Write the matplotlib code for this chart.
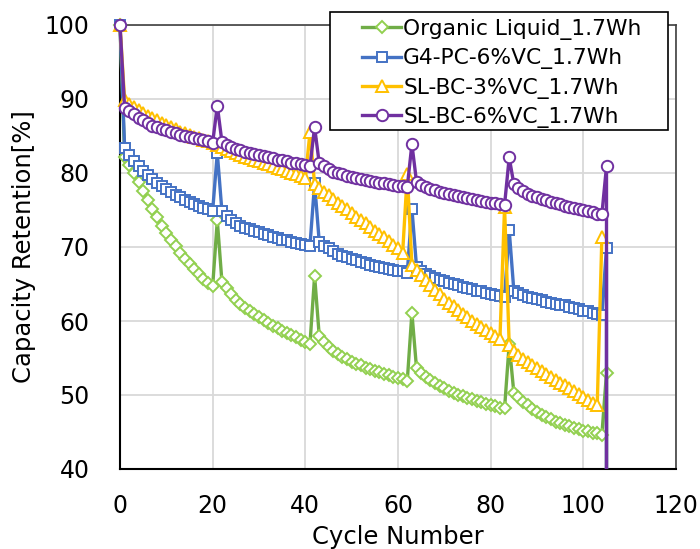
import matplotlib
matplotlib.use("Agg")
import matplotlib.pyplot as plt
from matplotlib.patches import Rectangle
from matplotlib.transforms import Bbox, TransformedBbox

# ---------------- data ----------------
cycles = list(range(0, 106)) + [105]          # last entry: reading after final cycle
cycles_sl3 = list(range(0, 105))

organic = [100, 82.2, 81.1, 80.0, 78.8, 77.6, 76.4, 75.2, 74.0, 72.9,
           71.9, 71.0, 70.1, 69.2, 68.4, 67.7, 67.0, 66.3, 65.7, 65.2,
           64.7, 73.6, 65.3, 64.4, 63.6, 62.9, 62.3, 61.8, 61.3, 60.9,
           60.5, 60.1, 59.7, 59.3, 59.0, 58.7, 58.4, 58.1, 57.8, 57.5,
           57.2, 56.9, 66.1, 58.0, 57.2, 56.5, 56.0, 55.5, 55.1, 54.8,
           54.5, 54.2, 54.0, 53.7, 53.5, 53.3, 53.1, 52.9, 52.7, 52.5,
           52.3, 52.1, 51.9, 61.1, 53.6, 53.0, 52.5, 52.0, 51.6, 51.2,
           50.9, 50.6, 50.3, 50.0, 49.8, 49.6, 49.4, 49.2, 49.0, 48.8,
           48.6, 48.5, 48.3, 48.2, 56.9, 50.3, 49.7, 49.1, 48.6, 48.1,
           47.7, 47.3, 47.0, 46.7, 46.4, 46.2, 46.0, 45.8, 45.6, 45.4,
           45.2, 45.1, 44.9, 44.8, 44.6, 53.0, 0.0]

g4_pc = [100, 83.4, 82.4, 81.6, 80.9, 80.3, 79.7, 79.2, 78.7, 78.2,
         77.8, 77.4, 77.0, 76.7, 76.4, 76.1, 75.8, 75.6, 75.3, 75.1,
         74.9, 82.7, 74.8, 74.2, 73.7, 73.3, 72.9, 72.6, 72.4, 72.2,
         72.0, 71.8, 71.6, 71.4, 71.2, 71.0, 70.9, 70.7, 70.6, 70.4,
         70.3, 70.2, 78.6, 70.7, 70.2, 69.8, 69.4, 69.1, 68.8, 68.6,
         68.4, 68.2, 68.0, 67.8, 67.6, 67.5, 67.3, 67.2, 67.0, 66.9,
         66.8, 66.7, 66.5, 75.2, 67.3, 66.8, 66.4, 66.1, 65.8, 65.6,
         65.4, 65.2, 65.0, 64.8, 64.6, 64.5, 64.3, 64.1, 64.0, 63.8,
         63.7, 63.5, 63.4, 63.3, 72.3, 64.1, 63.8, 63.5, 63.3, 63.1,
         63.0, 62.8, 62.6, 62.5, 62.3, 62.2, 62.1, 61.9, 61.7, 61.6,
         61.4, 61.3, 61.1, 61.0, 60.8, 69.9, 0.0]

sl_bc_3 = [100, 89.8, 89.3, 88.9, 88.5, 88.1, 87.7, 87.4, 87.1, 86.8,
           86.5, 86.2, 85.9, 85.6, 85.4, 85.1, 84.9, 84.7, 84.5, 84.3,
           84.1, 83.8, 83.5, 83.2, 83.0, 82.7, 82.4, 82.2, 82.0, 81.8,
           81.6, 81.4, 81.2, 80.9, 80.7, 80.5, 80.3, 80.0, 79.8, 79.6,
           79.3, 85.5, 78.5, 78.0, 77.5, 77.0, 76.5, 76.0, 75.5, 75.1,
           74.6, 74.1, 73.7, 73.2, 72.7, 72.2, 71.8, 71.3, 70.8, 70.3,
           69.8, 69.2, 79.8, 67.6, 66.9, 66.2, 65.5, 64.8, 64.2, 63.6,
           63.0, 62.5, 62.0, 61.5, 61.0, 60.5, 60.0, 59.6, 59.2, 58.8,
           58.4, 58.0, 57.6, 75.4, 56.8, 56.0, 55.4, 54.9, 54.4, 54.0,
           53.6, 53.2, 52.8, 52.4, 52.0, 51.6, 51.3, 50.9, 50.5, 50.1,
           49.7, 49.3, 48.9, 48.6, 71.3]

sl_bc_6 = [100, 88.8, 88.4, 88.0, 87.5, 87.1, 86.8, 86.4, 86.2, 86.0,
           85.8, 85.6, 85.4, 85.2, 85.0, 84.9, 84.7, 84.6, 84.4, 84.3,
           84.1, 89.1, 84.2, 83.8, 83.5, 83.3, 83.1, 82.9, 82.7, 82.6,
           82.4, 82.3, 82.1, 82.0, 81.8, 81.7, 81.6, 81.4, 81.3, 81.2,
           81.1, 80.9, 86.2, 81.3, 80.9, 80.5, 80.2, 80.0, 79.8, 79.6,
           79.5, 79.3, 79.2, 79.1, 78.9, 78.8, 78.7, 78.6, 78.5, 78.4,
           78.3, 78.2, 78.1, 83.9, 78.8, 78.4, 78.1, 77.9, 77.7, 77.5,
           77.3, 77.2, 77.0, 76.9, 76.7, 76.6, 76.5, 76.3, 76.2, 76.1,
           76.0, 75.9, 75.8, 75.7, 82.1, 78.5, 78.0, 77.6, 77.2, 76.9,
           76.7, 76.5, 76.3, 76.1, 75.9, 75.8, 75.6, 75.4, 75.3, 75.1,
           75.0, 74.8, 74.7, 74.5, 74.4, 80.9, 0.0]

labels = ["Organic Liquid_1.7Wh", "G4-PC-6%VC_1.7Wh",
          "SL-BC-3%VC_1.7Wh", "SL-BC-6%VC_1.7Wh"]
x_ticks = [0, 20, 40, 60, 80, 100, 120]
y_ticks = [40, 50, 60, 70, 80, 90, 100]

# ---------------- figure ----------------
plt.rcParams['font.family'] = ['DejaVu Sans']
W, H = 700, 549
fig = plt.figure(figsize=(W / 100, H / 100), dpi=100)
ax = fig.add_axes([120 / W, 1 - 469 / H, (676 - 120) / W, (469 - 25) / H])

lw = 2.4
mew = 1.4
styles = [
    (cycles, organic, dict(color='#70AD47', marker='D', ms=6, mec='#92D050')),
    (cycles, g4_pc, dict(color='#4472C4', marker='s', ms=7.5, mec='#4472C4')),
    (cycles_sl3, sl_bc_3, dict(color='#FFC000', marker='^', ms=8.5, mec='#FFC000')),
    (cycles, sl_bc_6, dict(color='#7030A0', marker='o', ms=8.2, mec='#7030A0')),
]
clip = TransformedBbox(Bbox([[-0.03, 0.0], [1.0, 1.03]]), ax.transAxes)
for i, (xs, ys, st) in enumerate(styles):
    line, = ax.plot(xs, ys, lw=lw, mfc='white', mew=mew, label=labels[i],
                    zorder=3 + i, **st)
    line.set_clip_box(clip)

ax.set_xlim(0, 120)
ax.set_ylim(40, 100)
ax.set_xticks(x_ticks)
ax.set_yticks(y_ticks)
ax.tick_params(axis='both', length=0, labelsize=17)
ax.tick_params(axis='x', pad=18)
ax.tick_params(axis='y', pad=22)

ax.grid(True, color='#D9D9D9', lw=1.3, zorder=0)
ax.set_axisbelow(True)
for side in ['left', 'bottom']:
    ax.spines[side].set_color('black')
    ax.spines[side].set_linewidth(1.5)
for side in ['top', 'right']:
    ax.spines[side].set_color('#404040')
    ax.spines[side].set_linewidth(1.2)

ax.set_xlabel("Cycle Number", fontsize=17.5, labelpad=5)
ax.set_ylabel("Capacity Retention[%]", fontsize=17.5, labelpad=6)

# legend frame (box) and entries
frame = Rectangle((330 / W, 1 - 130 / H), 338 / W, 118 / H,
                  transform=fig.transFigure, facecolor='white',
                  edgecolor='black', lw=1.2, zorder=9)
fig.patches.append(frame)
leg = fig.legend(loc='center', bbox_to_anchor=(502 / W, 1 - 73.5 / H),
                 fontsize=15.7, frameon=False, handlelength=1.75,
                 handletextpad=0.12, labelspacing=0.38, borderpad=0,
                 borderaxespad=0)
leg.set_zorder(10)

fig.savefig("out.png", dpi=100)
